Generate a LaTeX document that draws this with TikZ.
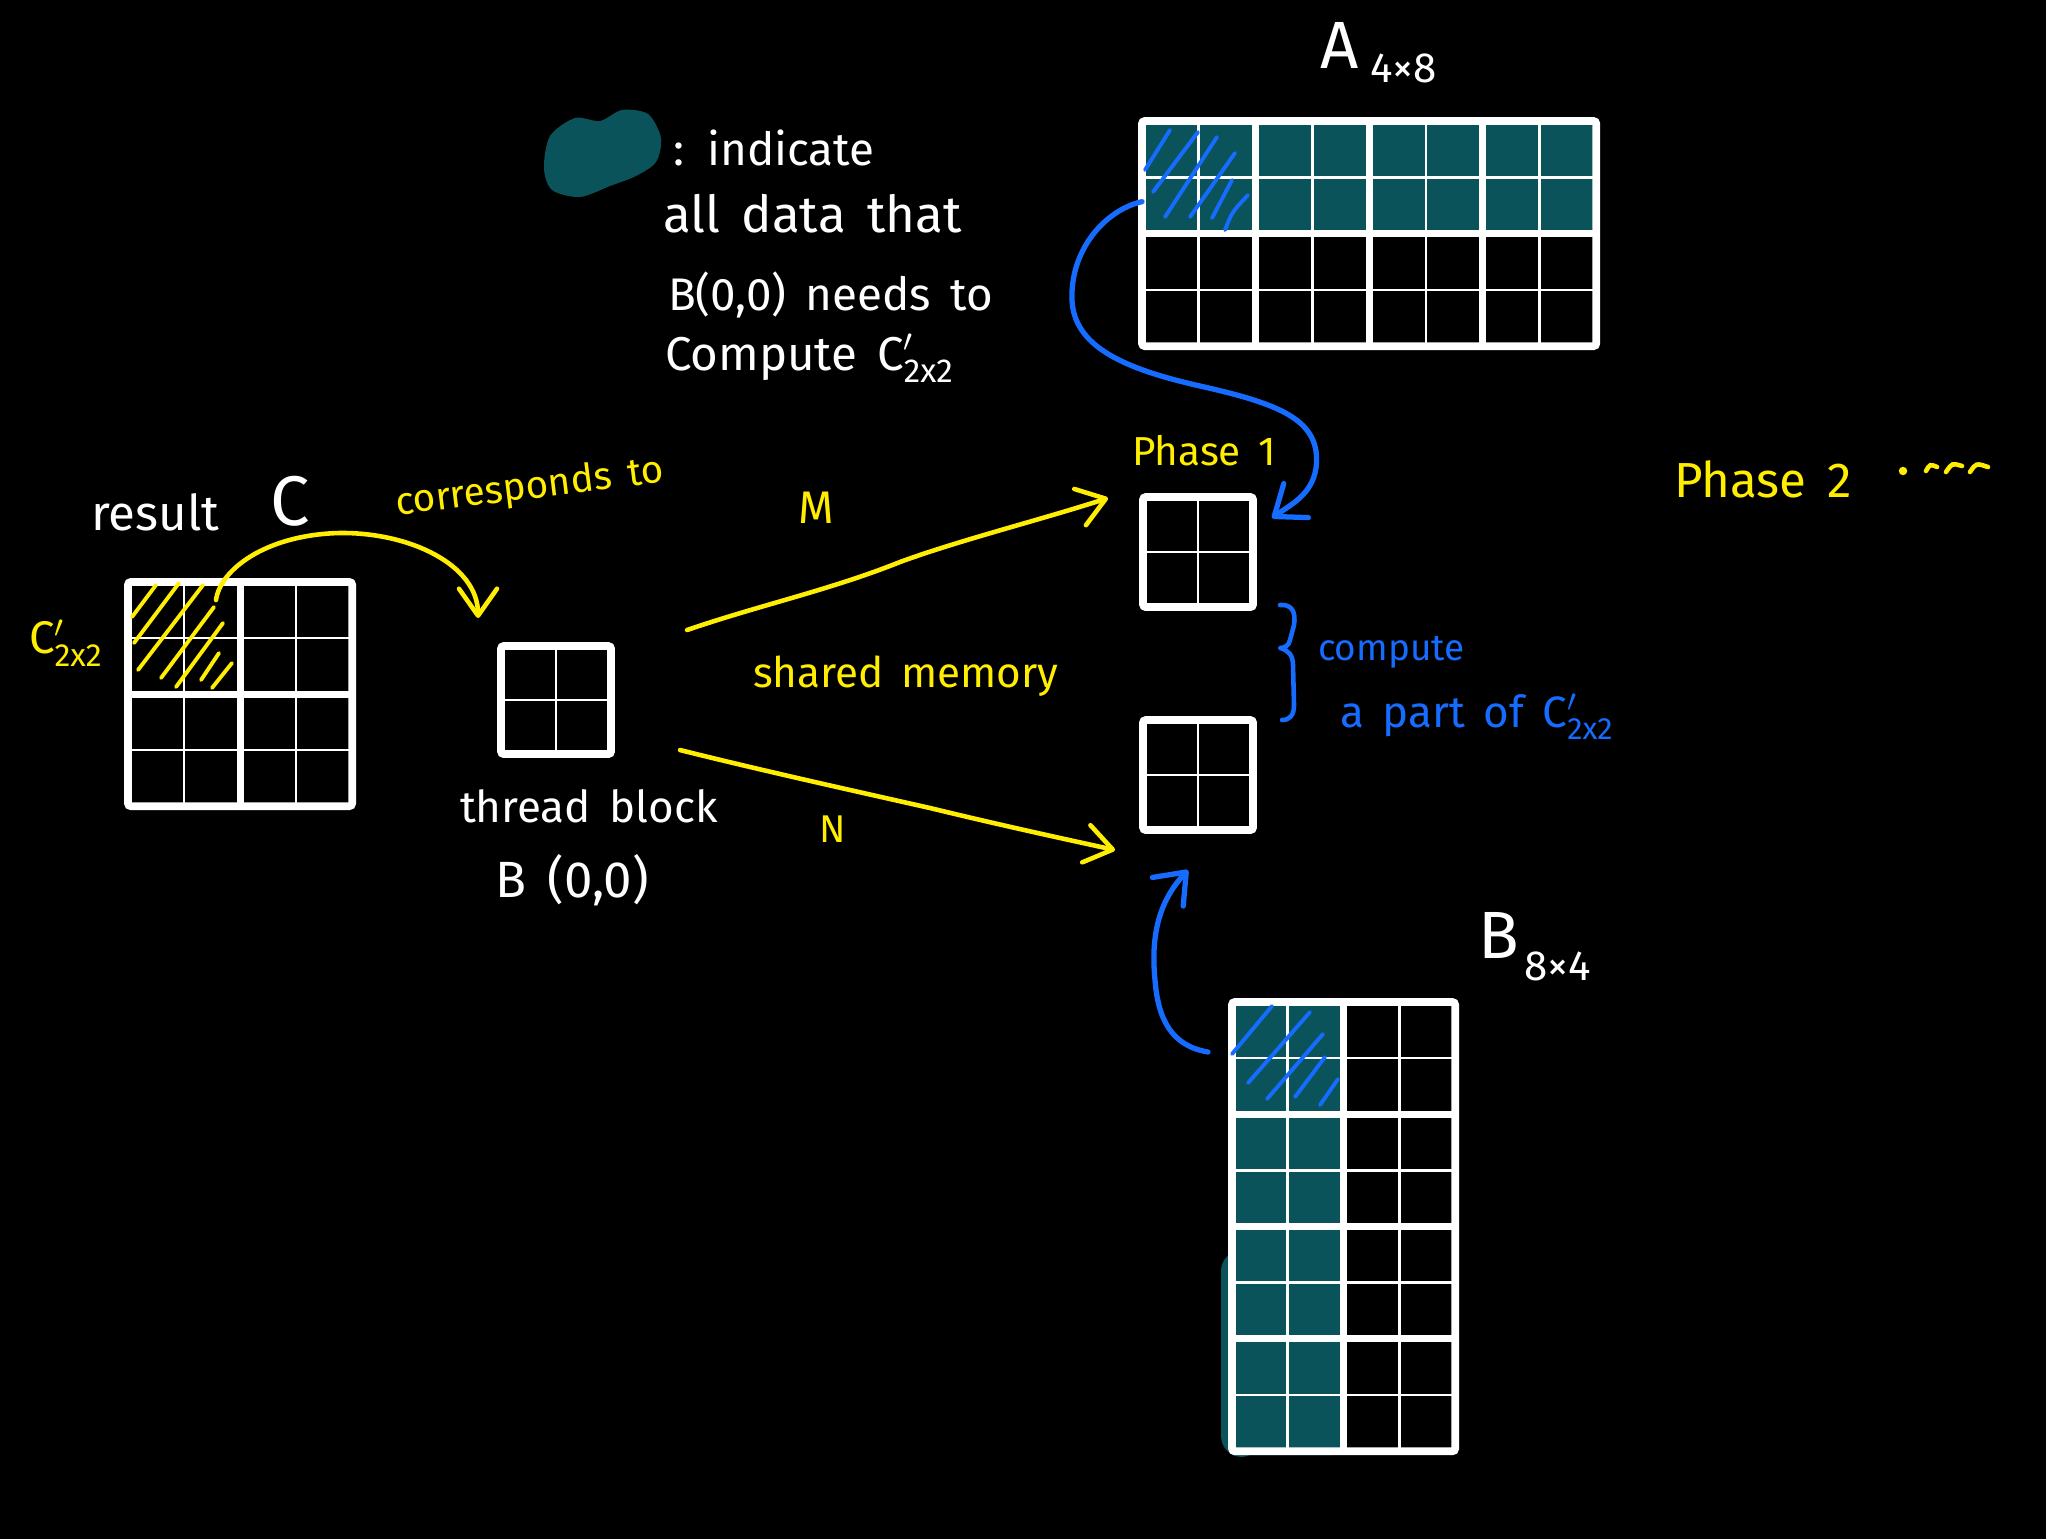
\documentclass[tikz,border=0pt]{standalone}
\usepackage{fontspec}
\usepackage{amsmath}
\setmainfont{Fira Sans}[WordSpace=1.6]
\usetikzlibrary{arrows.meta,calc}
\definecolor{teal1}{RGB}{11,83,90}
\definecolor{hyel}{RGB}{255,238,0}
\definecolor{hblu}{RGB}{22,108,255}
\newcommand\myfs[1]{\fontsize{#1}{#1}\selectfont}
\newcommand\gridin[3]{%
  \pgfmathtruncatemacro\gnc{#2-1}%
  \pgfmathtruncatemacro\gnr{#3-1}%
  \foreach \gi in {1,...,\gnc}{%
    \pgfmathsetmacro\gf{\gi/#2}%
    \ifodd\gi
      \draw[thinln] ($(#1.north west)!\gf!(#1.north east)$) -- ($(#1.south west)!\gf!(#1.south east)$);
    \else
      \draw[thickln] ($(#1.north west)!\gf!(#1.north east)$) -- ($(#1.south west)!\gf!(#1.south east)$);
    \fi
  }%
  \foreach \gi in {1,...,\gnr}{%
    \pgfmathsetmacro\gf{\gi/#3}%
    \ifodd\gi
      \draw[thinln] ($(#1.north west)!\gf!(#1.south west)$) -- ($(#1.north east)!\gf!(#1.south east)$);
    \else
      \draw[thickln] ($(#1.north west)!\gf!(#1.south west)$) -- ($(#1.north east)!\gf!(#1.south east)$);
    \fi
  }%
}
\begin{document}
\begin{tikzpicture}[x=0.01cm,y=-0.01cm,
  matbox/.style={draw=white,line width=2.2pt,rounded corners=0.8pt,inner sep=0pt,outer sep=0pt,anchor=north west},
  thinln/.style={white,line width=0.75pt},
  thickln/.style={white,line width=2pt},
  hatchy/.style={hyel,line width=1.1pt,line cap=round},
  hatchb/.style={hblu,line width=1.1pt,line cap=round},
  yarr/.style={hyel,line width=1.3pt,line cap=round,-{Straight Barb[round,length=0.27cm,width=0.38cm]}},
  barr/.style={hblu,line width=1.5pt,line cap=round,-{Straight Barb[round,length=0.27cm,width=0.42cm]}},
  wtxt/.style={white,inner sep=0pt,outer sep=0pt},
  ytxt/.style={hyel,inner sep=0pt,outer sep=0pt},
  btxt/.style={hblu,inner sep=0pt,outer sep=0pt},
]
\fill[black] (0,0) rectangle (2046,1539);
\useasboundingbox (0,0) rectangle (2046,1539);

% teal highlights
\fill[teal1,rounded corners=4pt] (1140,120) rectangle (1595,235);
\fill[teal1,rounded corners=4pt] (1231,1002) rectangle (1345,1455);
\fill[teal1,rounded corners=6pt] (1221,1250) rectangle (1262,1457);
\fill[teal1] plot[smooth cycle] coordinates {(544,168) (550,136) (575,118) (600,121) (622,110) (648,114) (661,138) (656,162) (636,176) (610,186) (580,197) (552,190)};

% matrices
\node[matbox,minimum width=4.54cm,minimum height=2.25cm] (A) at (1142,121) {};
\node[matbox,minimum width=2.24cm,minimum height=2.24cm] (C) at (128,582) {};
\node[matbox,minimum width=1.10cm,minimum height=1.08cm] (TB) at (501,646) {};
\node[matbox,minimum width=1.10cm,minimum height=1.10cm] (T1) at (1143,497) {};
\node[matbox,minimum width=1.10cm,minimum height=1.10cm] (T2) at (1143,720) {};
\node[matbox,minimum width=2.23cm,minimum height=4.49cm] (B) at (1232,1002) {};
\gridin{A}{8}{4}
\gridin{C}{4}{4}
\gridin{TB}{2}{2}
\gridin{T1}{2}{2}
\gridin{T2}{2}{2}
\gridin{B}{4}{8}

% hatching
\draw[hatchy] (132,617)--(156,585) (134,643)--(179,583) (138,670)--(203,585) (161,678)--(214,607) (176,687)--(223,623) (201,680)--(219,653) (212,688)--(232,663);
\draw[hatchb] (1145,170)--(1170,130) (1153,192)--(1198,132) (1165,217)--(1217,137) (1190,217)--(1235,153) (1212,218)--(1232,180) (1225,230) .. controls (1232,212) .. (1248,195);
\draw[hatchb] (1232,1054)--(1272,1006) (1248,1083)--(1310,1012) (1267,1099)--(1323,1034) (1295,1097)--(1325,1057) (1320,1105)--(1338,1079);

% connectors
\draw[barr] (A.172) .. controls (1105,210) and (1070,250) .. (1072,300) .. controls (1074,345) and (1120,368) .. (1200,386) .. controls (1280,404) and (1322,420) .. (1316,468) .. controls (1312,495) and (1290,505) .. ([shift={(19,21)}]T1.north east);
\draw[barr] ([shift={(-24,50)}]B.north west) .. controls (1172,1046) and (1158,1020) .. (1155,980) .. controls (1150,930) and (1162,898) .. ([shift={(-10,40)}]T2.south);
\draw[yarr] ([shift={(76,-16)}]TB.north east) .. controls (760,605) and (830,590) .. (900,562) .. controls (960,540) and (1040,520) .. ([shift={(-35,-54)}]T1.west);
\draw[yarr] ([shift={(69,50)}]TB.east) .. controls (760,770) and (850,790) .. (930,808) .. controls (1000,825) and (1060,838) .. ([shift={(-28,75)}]T2.west);
\draw[yarr] ([shift={(88,18)}]C.north west) .. controls (220,570) and (265,535) .. (339,533) .. controls (410,532) and (478,565) .. ([shift={(-78,-28)}]TB.north);

% brace
\draw[hblu,line width=1.3pt,line cap=round,line join=round] (1280,605) .. controls (1292,604) and (1296,612) .. (1294,625) -- (1290,640) .. controls (1289,646) and (1284,648) .. (1280,648) .. controls (1288,650) and (1293,655) .. (1293,665) -- (1294,705) .. controls (1294,715) and (1290,720) .. (1282,720);

% trailing marks after Phase 2
\fill[hyel] (1903,471) circle[radius=1.2pt];
\draw[hyel,line width=1.3pt,line cap=round] (1926,471) .. controls (1930,464) .. (1937,467);
\draw[hyel,line width=1.3pt,line cap=round] (1946,472) .. controls (1952,463) .. (1962,466);
\draw[hyel,line width=1.3pt,line cap=round] (1970,472) .. controls (1976,463) .. (1988,467);

% labels
\node[wtxt,anchor=base west,font=\myfs{19}] (Alab) at (1320,68) {A};
\node[wtxt,anchor=base west,font=\myfs{12}] (Asub) at (1370,82) {4×8};
\node[wtxt,anchor=base west,font=\myfs{19}] (Blab) at (1478,958) {B};
\node[wtxt,anchor=base west,font=\myfs{12}] (Bsub) at (1524,980) {8×4};

\node[wtxt,anchor=base west,font=\myfs{13}] (lg1) at (673,165) {: indicate};
\node[wtxt,anchor=base west,font=\myfs{14.5}] (lg2) at (663,232) {all data that};
\node[wtxt,anchor=base west,font=\myfs{13}] (lg3) at (668,310) {B(0,0) needs to};
\node[wtxt,anchor=base west,font=\myfs{13.5}] (lg4) at (665,370) {Compute C$'_{\text{2x2}}$};

\node[wtxt,anchor=base west,font=\myfs{14}] (res) at (91,530) {result};
\node[wtxt,anchor=base west,font=\myfs{20}] (resC) at (270,525) {C};
\node[ytxt,anchor=base west,font=\myfs{13}] (cpl) at (29,653) {C$'_{\text{2x2}}$};
\node[ytxt,anchor=base west,rotate=7,font=\myfs{11}] (corr) at (397,515) {corresponds to};

\node[wtxt,anchor=base west,font=\myfs{12.5}] (tbl) at (460,822) {thread block};
\node[wtxt,anchor=base west,font=\myfs{14.5}] (tbn) at (495,897) {B (0,0)};

\node[ytxt,font=\myfs{13}] (Mlab) at (816,508) {M};
\node[ytxt,font=\myfs{11}] (Nlab) at (833,829) {N};
\node[ytxt,anchor=base west,font=\myfs{12}] (shm) at (753,687) {shared memory};

\node[ytxt,anchor=base west,font=\myfs{11.5}] (ph1) at (1132,465) {Phase 1};
\node[ytxt,anchor=base west,font=\myfs{14}] (ph2) at (1674,497) {Phase 2};

\node[btxt,anchor=base west,font=\myfs{10.5}] (cmp1) at (1318,660) {compute};
\node[btxt,anchor=base west,font=\myfs{12.5}] (cmp2) at (1340,727) {a part of C$'_{\text{2x2}}$};
\end{tikzpicture}
\end{document}
